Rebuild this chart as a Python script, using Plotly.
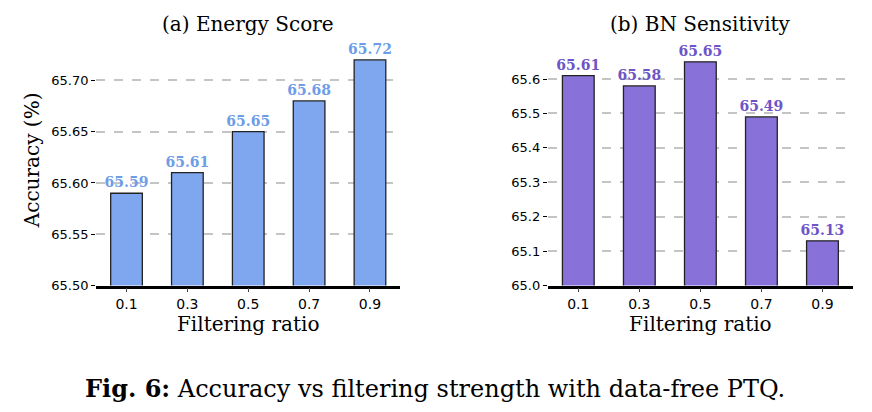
import plotly.graph_objects as go
from plotly.subplots import make_subplots

ratios = ["0.1", "0.3", "0.5", "0.7", "0.9"]
energy_acc = [65.59, 65.61, 65.65, 65.68, 65.72]
bn_acc = [65.61, 65.58, 65.65, 65.49, 65.13]
left_ticks = [65.50, 65.55, 65.60, 65.65, 65.70]
right_ticks = [65.0, 65.1, 65.2, 65.3, 65.4, 65.5, 65.6]

serif = "DejaVu Serif"
sans = "DejaVu Sans"

fig = make_subplots(rows=1, cols=2)

fig.add_trace(go.Bar(
    x=ratios, y=energy_acc, width=0.52,
    marker=dict(color="#7ea7ef", line=dict(color="#222", width=1.3)),
    text=["%.2f" % v for v in energy_acc], textposition="outside", constraintext="none",
    textfont=dict(family=serif, size=14, color="#6e9de8", weight="bold"),
    cliponaxis=False), row=1, col=1)
fig.add_trace(go.Bar(
    x=ratios, y=bn_acc, width=0.52,
    marker=dict(color="#8872d9", line=dict(color="#222", width=1.3)),
    text=["%.2f" % v for v in bn_acc], textposition="outside", constraintext="none",
    textfont=dict(family=serif, size=14, color="#6d55c8", weight="bold"),
    cliponaxis=False), row=1, col=2)

xax = dict(showgrid=False, showline=True, linecolor="black", linewidth=2.5,
           ticks="outside", ticklen=4, tickfont=dict(family=sans, size=14, color="black"),
           title=dict(text="Filtering ratio", font=dict(family=serif, size=20, color="black"), standoff=4))
fig.update_xaxes(**xax, domain=[0.101, 0.45], row=1, col=1)
fig.update_xaxes(**xax, domain=[0.619, 0.969], row=1, col=2)

yax = dict(showgrid=True, gridcolor="#c4c4c4", griddash="dash", gridwidth=1.5,
           showline=False, zeroline=False, ticks="outside", ticklen=4, tickcolor="black",
           tickfont=dict(family=sans, size=13, color="black"), domain=[0.313, 0.935])
fig.update_yaxes(**yax, range=[65.50, 65.745], tickvals=left_ticks,
                 ticktext=["%.2f" % v for v in left_ticks],
                 title=dict(text="Accuracy (%)", font=dict(family=serif, size=20, color="black"), standoff=6),
                 row=1, col=1)
fig.update_yaxes(**yax, range=[65.0, 65.73], tickvals=right_ticks,
                 ticktext=["%.1f" % v for v in right_ticks], row=1, col=2)

fig.add_annotation(text="(a) Energy Score", x=0.2755, y=0.925, xref="paper", yref="paper",
                   xanchor="center", yanchor="bottom", showarrow=False,
                   font=dict(family=serif, size=20, color="black"))
fig.add_annotation(text="(b) BN Sensitivity", x=0.794, y=0.925, xref="paper", yref="paper",
                   xanchor="center", yanchor="bottom", showarrow=False,
                   font=dict(family=serif, size=20, color="black"))
fig.add_annotation(text="<b>Fig. 6:</b> Accuracy vs filtering strength with data-free PTQ.",
                   x=0.49, y=0.058, xref="paper", yref="paper", xanchor="center",
                   yanchor="middle", showarrow=False,
                   font=dict(family=serif, size=24, color="black"))

fig.update_layout(width=872, height=412, margin=dict(l=0, r=0, t=0, b=0),
                  paper_bgcolor="white", plot_bgcolor="white", showlegend=False)
fig.write_html("out.html")
